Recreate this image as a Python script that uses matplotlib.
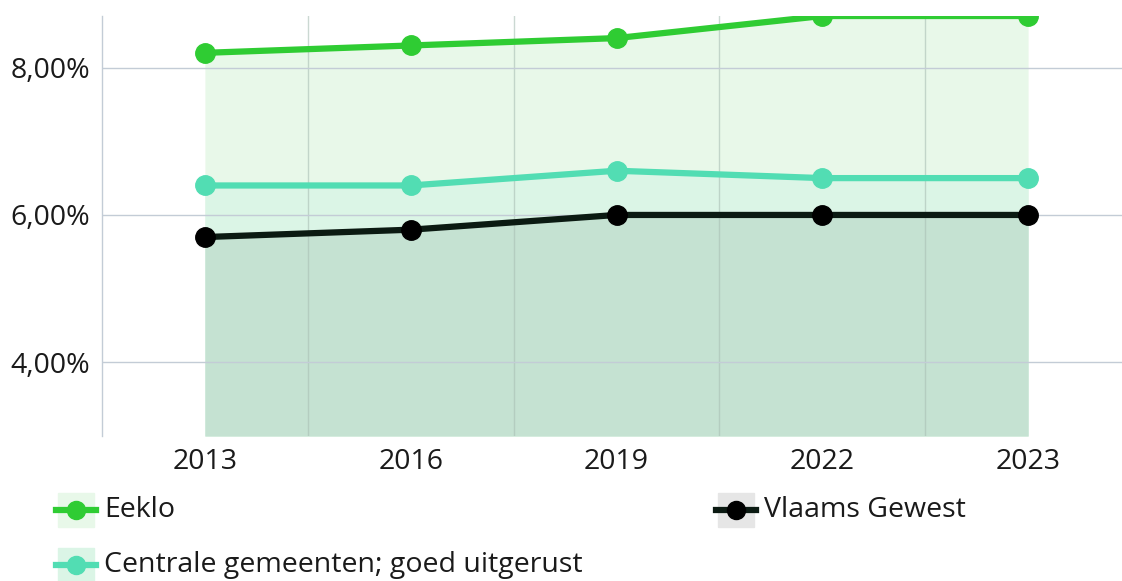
#!/usr/bin/env python3
"""Line chart with stacked-looking area fills: share per year, Eeklo vs references."""

import matplotlib.pyplot as plt
from matplotlib.patches import Rectangle
from matplotlib.lines import Line2D
from matplotlib.ticker import FuncFormatter

plt.rcParams['font.family'] = ['Open Sans', 'DejaVu Sans']

# Data
years = ['2013', '2016', '2019', '2022', '2023']
eeklo = [8.2, 8.3, 8.4, 8.7, 8.7]
centrale = [6.4, 6.4, 6.6, 6.5, 6.5]
vlaams = [5.7, 5.8, 6.0, 6.0, 6.0]
y_ticks = [4, 6, 8]

series = [
    ('Eeklo', eeklo, '#2fcc33', '#2fcc33', '#e8f8e9'),
    ('Centrale gemeenten; goed uitgerust', centrale, '#52ddb3', '#52ddb3', '#dbf5e6'),
    ('Vlaams Gewest', vlaams, '#0b1a12', '#000000', '#c5e2d2'),
]

W, H = 1122, 581
FS = 20.5
fig = plt.figure(figsize=(W / 100, H / 100), dpi=100)
# axes run from category -0.5 to 4.5, right part falls outside the picture
ax = fig.add_axes([102 / W, 1 - 436 / H, 1029 / W, (436 - 16) / H])

x = list(range(len(years)))
y_min = 3.0
for name, vals, lc, mc, fc in series:
    ax.fill_between(x, vals, y_min, color=fc, linewidth=0, zorder=1)

for gx in [0.5, 1.5, 2.5, 3.5]:
    ax.axvline(gx, color='#a9bfb4', linewidth=1, alpha=0.6, zorder=2)
for gy in y_ticks:
    ax.axhline(gy, color='#c3ccd6', linewidth=1, zorder=2)

for name, vals, lc, mc, fc in series:
    ax.plot(x, vals, color=lc, linewidth=4.5, marker='o', markersize=14,
            markerfacecolor=mc, markeredgecolor=mc, zorder=3)

ax.set_xlim(-0.5, 4.5)
ax.set_ylim(y_min, 8.7)
ax.set_xticks(x)
ax.set_xticklabels(years)
ax.set_yticks(y_ticks)
ax.yaxis.set_major_formatter(FuncFormatter(lambda v, p: f'{v:.2f}%'.replace('.', ',')))
ax.tick_params(length=0, labelsize=FS, colors='#1a1a1a')
ax.tick_params(axis='y', pad=8.5)
ax.tick_params(axis='x', pad=8.5)
for side in ['top', 'right', 'bottom']:
    ax.spines[side].set_visible(False)
ax.spines['left'].set_color('#c3ccd6')
ax.spines['left'].set_linewidth(1)

# legend drawn by hand: background square + line with marker + label
legend_pos = {
    'Eeklo': (58, 510),
    'Vlaams Gewest': (718, 510),
    'Centrale gemeenten; goed uitgerust': (58, 565),
}
for name, vals, lc, mc, fc in series:
    lx, ly = legend_pos[name]
    bg = fc if name != 'Vlaams Gewest' else '#e6e6e6'
    fig.patches.append(Rectangle((lx / W, 1 - (ly + 17) / H), 36 / W, 34 / H,
                                 transform=fig.transFigure, color=bg, zorder=1))
    fig.lines.append(Line2D([(lx - 2) / W, (lx + 38) / W], [1 - ly / H] * 2,
                            transform=fig.transFigure, color=lc, linewidth=4.5, zorder=2))
    fig.lines.append(Line2D([(lx + 18) / W], [1 - ly / H], transform=fig.transFigure,
                            marker='o', markersize=13, color=mc, linestyle='none', zorder=3))
    fig.text((lx + 46) / W, 1 - ly / H, name, fontsize=FS, color='#1a1a1a',
             va='center', ha='left')

fig.savefig('out.png', dpi=100)
